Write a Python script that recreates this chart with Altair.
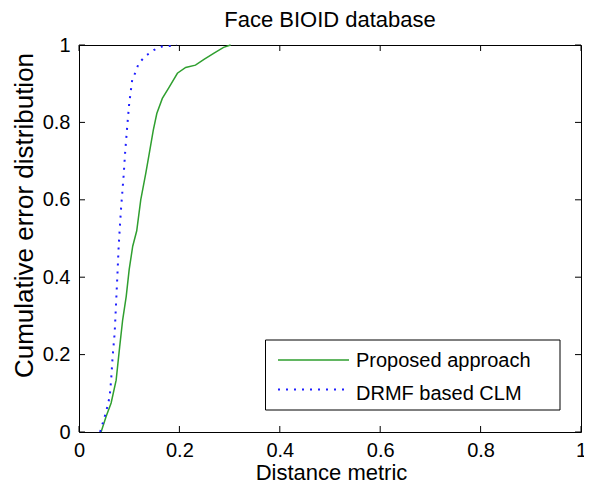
import altair as alt
import pandas as pd

# ---- data ----
series_names = ["Proposed approach", "DRMF based CLM"]
series_colors = ["#2f9f2f", "#1f1fff"]

proposed_x = [0.044, 0.054, 0.064, 0.074, 0.081, 0.087, 0.094, 0.100, 0.107, 0.115,
              0.123, 0.133, 0.140, 0.148, 0.155, 0.166, 0.180, 0.196, 0.2125, 0.232,
              0.249, 0.269, 0.288, 0.302]
proposed_y = [0.0, 0.04, 0.075, 0.134, 0.22, 0.29, 0.35, 0.42, 0.48, 0.52,
              0.60, 0.668, 0.72, 0.78, 0.823, 0.862, 0.892, 0.927, 0.942, 0.948,
              0.963, 0.979, 0.994, 1.0]

drmf_x = [0.042, 0.054, 0.061, 0.064, 0.067, 0.071, 0.074, 0.077, 0.079, 0.081,
          0.084, 0.089, 0.092, 0.096, 0.100, 0.106, 0.113, 0.119, 0.133, 0.149,
          0.165, 0.186, 0.195]
drmf_y = [0.0, 0.052, 0.091, 0.134, 0.195, 0.255, 0.337, 0.419, 0.479, 0.522,
          0.582, 0.664, 0.724, 0.789, 0.849, 0.91, 0.931, 0.953, 0.972, 0.987,
          0.996, 0.998, 1.0]

x_ticks = [0, 0.2, 0.4, 0.6, 0.8, 1]
y_ticks = [0, 0.2, 0.4, 0.6, 0.8, 1]

chart_title = "Face BIOID database"
x_title = "Distance metric"
y_title = "Cumulative error distribution"

# ---- build tables ----
def series_df(name, xs, ys):
    return pd.DataFrame({"series": name, "x": xs, "y": ys, "order": list(range(len(xs)))})

df_prop = series_df(series_names[0], proposed_x, proposed_y)
df_drmf = series_df(series_names[1], drmf_x, drmf_y)

W, H = 502, 387
FONT = "Liberation Sans"
TICK = 6

xscale = alt.Scale(domain=[0, 1], nice=False, zero=False)
yscale = alt.Scale(domain=[0, 1], nice=False, zero=False)

xaxis = alt.Axis(values=x_ticks, format="~g", title=x_title, ticks=False, tickSize=0,
                 domain=False, grid=False, labelPadding=8, labelFontSize=20,
                 labelFont=FONT, labelColor="#000", labelFlush=False, labelOverlap=False,
                 titleFont=FONT, titleFontSize=22, titleFontWeight="normal",
                 titleColor="#000", titleX=W / 2 + 1, titleY=47,
                 titleBaseline="alphabetic", titleAlign="center")
yaxis = alt.Axis(values=y_ticks, format="~g", title=y_title, ticks=False, tickSize=0,
                 domain=False, grid=False, labelPadding=9, labelFontSize=20,
                 labelFont=FONT, labelColor="#000", labelFlush=False, labelOverlap=False,
                 titleFont=FONT, titleFontSize=26, titleFontWeight="normal",
                 titleColor="#000", titleX=-55, titleY=170, titleAngle=270,
                 titleAlign="center", titleBaseline="middle")

line_prop = alt.Chart(df_prop).mark_line(color=series_colors[0], strokeWidth=1.5).encode(
    x=alt.X("x:Q", scale=xscale, axis=xaxis),
    y=alt.Y("y:Q", scale=yscale, axis=yaxis),
    order="order:Q",
)
line_drmf = alt.Chart(df_drmf).mark_line(color=series_colors[1], strokeWidth=2,
                                         strokeDash=[2, 6]).encode(
    x=alt.X("x:Q", scale=xscale, axis=xaxis),
    y=alt.Y("y:Q", scale=yscale, axis=yaxis),
    order="order:Q",
)

# inward ticks (MATLAB box style)
xt = pd.DataFrame({"x": x_ticks})
yt = pd.DataFrame({"y": y_ticks})
tick_bottom = alt.Chart(xt).mark_rule(color="#000", strokeWidth=1).encode(
    x=alt.X("x:Q", scale=xscale, axis=xaxis), y=alt.value(H), y2=alt.value(H - TICK))
tick_top = alt.Chart(xt).mark_rule(color="#000", strokeWidth=1).encode(
    x=alt.X("x:Q", scale=xscale, axis=xaxis), y=alt.value(0), y2=alt.value(TICK))
tick_left = alt.Chart(yt).mark_rule(color="#000", strokeWidth=1).encode(
    y=alt.Y("y:Q", scale=yscale, axis=yaxis), x=alt.value(0), x2=alt.value(TICK))
tick_right = alt.Chart(yt).mark_rule(color="#000", strokeWidth=1).encode(
    y=alt.Y("y:Q", scale=yscale, axis=yaxis), x=alt.value(W - TICK), x2=alt.value(W))

# legend box (MATLAB style)
legend_box = alt.Chart(pd.DataFrame({"k": [0]})).mark_rect(
    fill="white", stroke="#000", strokeWidth=1).encode(
    x=alt.value(186.5), x2=alt.value(481), y=alt.value(295), y2=alt.value(365))

leg_layers = []
sym_y = [315, 344.5]
txt_y = [322, 355]
sym_x2 = [270, 265]
dashes = [[1, 0], [2, 6]]
widths = [1.5, 2]
for i, name in enumerate(series_names):
    d = pd.DataFrame({"label": [name]})
    leg_layers.append(
        alt.Chart(d).mark_rule(color=series_colors[i], strokeWidth=widths[i],
                               strokeDash=dashes[i]).encode(
            x=alt.value(199), x2=alt.value(sym_x2[i]), y=alt.value(sym_y[i])))
    leg_layers.append(
        alt.Chart(d).mark_text(font=FONT, fontSize=20, color="#000", align="left",
                               baseline="alphabetic").encode(
            text="label:N", x=alt.value(277), y=alt.value(txt_y[i])))

chart = alt.layer(
    line_prop, line_drmf, tick_bottom, tick_top, tick_left, tick_right,
    legend_box, *leg_layers,
).properties(
    width=W, height=H,
    background="white",
    title=alt.TitleParams(text=chart_title, font=FONT, fontSize=22, fontWeight="normal",
                          color="#000", anchor="middle", frame="group",
                          baseline="alphabetic", offset=7, dy=21),
    autosize=alt.AutoSizeParams(type="none"),
    padding={"left": 71, "top": 37, "right": 3, "bottom": 48},
).configure_view(stroke="#000", strokeWidth=1)

chart.save("out.html", embed_options={"renderer": "svg", "actions": False})
